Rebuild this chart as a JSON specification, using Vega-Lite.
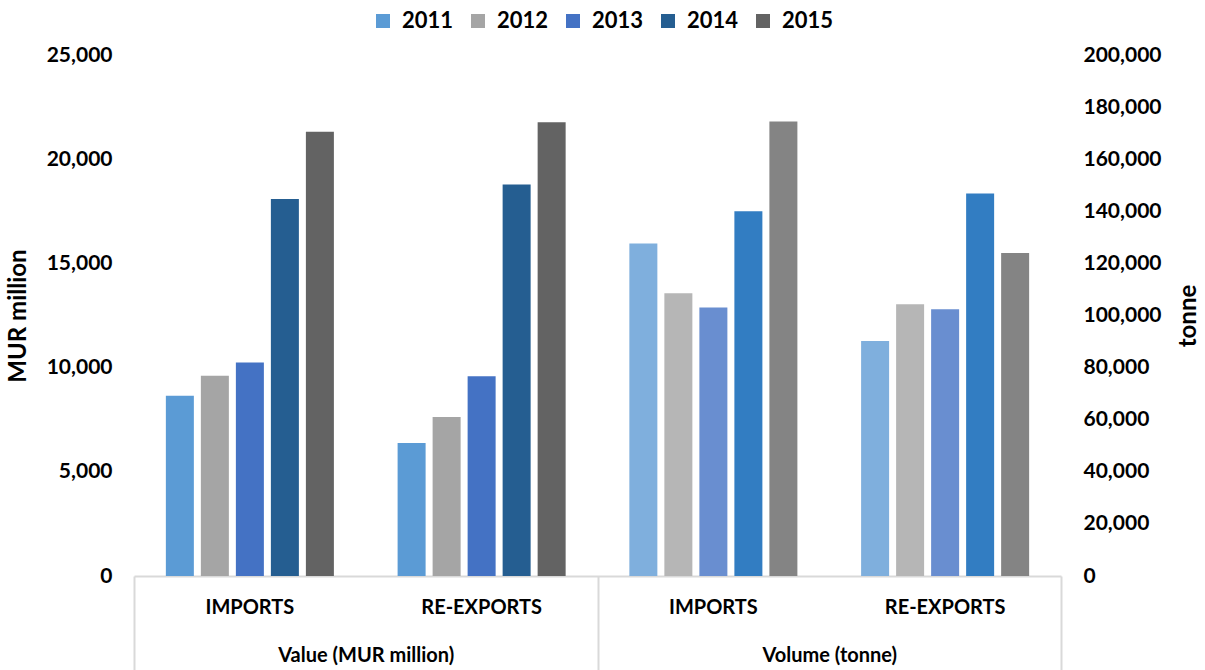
{
  "$schema": "https://vega.github.io/schema/vega-lite/v6.json",
  "autosize": {"type": "none"},
  "width": 927,
  "height": 521,
  "padding": {"left": 134, "top": 55, "right": 144, "bottom": 94},
  "config": {
    "font": "Lato",
    "view": {"stroke": null},
    "axis": {"labelFontWeight": "bold", "labelColor": "#000000", "titleColor": "#000000", "titleFontWeight": "bold", "labelFontSize": 21, "titleFontSize": 24, "grid": false}
  },
  "data": {
    "values": [
      {"group": "Value (MUR million)", "flow": "IMPORTS", "cat": "Value IMPORTS", "year": "2011", "amount": 8650},
      {"group": "Value (MUR million)", "flow": "IMPORTS", "cat": "Value IMPORTS", "year": "2012", "amount": 9610},
      {"group": "Value (MUR million)", "flow": "IMPORTS", "cat": "Value IMPORTS", "year": "2013", "amount": 10250},
      {"group": "Value (MUR million)", "flow": "IMPORTS", "cat": "Value IMPORTS", "year": "2014", "amount": 18090},
      {"group": "Value (MUR million)", "flow": "IMPORTS", "cat": "Value IMPORTS", "year": "2015", "amount": 21320},
      {"group": "Value (MUR million)", "flow": "RE-EXPORTS", "cat": "Value RE-EXPORTS", "year": "2011", "amount": 6380},
      {"group": "Value (MUR million)", "flow": "RE-EXPORTS", "cat": "Value RE-EXPORTS", "year": "2012", "amount": 7630},
      {"group": "Value (MUR million)", "flow": "RE-EXPORTS", "cat": "Value RE-EXPORTS", "year": "2013", "amount": 9580},
      {"group": "Value (MUR million)", "flow": "RE-EXPORTS", "cat": "Value RE-EXPORTS", "year": "2014", "amount": 18780},
      {"group": "Value (MUR million)", "flow": "RE-EXPORTS", "cat": "Value RE-EXPORTS", "year": "2015", "amount": 21770},
      {"group": "Volume (tonne)", "flow": "IMPORTS", "cat": "Volume IMPORTS", "year": "2011", "amount": 127600},
      {"group": "Volume (tonne)", "flow": "IMPORTS", "cat": "Volume IMPORTS", "year": "2012", "amount": 108500},
      {"group": "Volume (tonne)", "flow": "IMPORTS", "cat": "Volume IMPORTS", "year": "2013", "amount": 103100},
      {"group": "Volume (tonne)", "flow": "IMPORTS", "cat": "Volume IMPORTS", "year": "2014", "amount": 140000},
      {"group": "Volume (tonne)", "flow": "IMPORTS", "cat": "Volume IMPORTS", "year": "2015", "amount": 174500},
      {"group": "Volume (tonne)", "flow": "RE-EXPORTS", "cat": "Volume RE-EXPORTS", "year": "2011", "amount": 90200},
      {"group": "Volume (tonne)", "flow": "RE-EXPORTS", "cat": "Volume RE-EXPORTS", "year": "2012", "amount": 104300},
      {"group": "Volume (tonne)", "flow": "RE-EXPORTS", "cat": "Volume RE-EXPORTS", "year": "2013", "amount": 102400},
      {"group": "Volume (tonne)", "flow": "RE-EXPORTS", "cat": "Volume RE-EXPORTS", "year": "2014", "amount": 146800},
      {"group": "Volume (tonne)", "flow": "RE-EXPORTS", "cat": "Volume RE-EXPORTS", "year": "2015", "amount": 124000}
    ]
  },
  "layer": [
    {
      "transform": [{"filter": "datum.group === 'Value (MUR million)'"}],
      "mark": {"type": "bar"},
      "encoding": {
        "x": {
          "field": "cat", "type": "nominal",
          "scale": {"domain": ["Value IMPORTS", "Value RE-EXPORTS", "Volume IMPORTS", "Volume RE-EXPORTS"], "paddingInner": 0, "paddingOuter": 0},
          "axis": {"orient": "bottom", "title": null, "labelAngle": 0, "ticks": false, "tickSize": 0, "domain": true, "domainColor": "#D9D9D9", "domainWidth": 2, "labelPadding": 21, "labelFontSize": 20, "labelExpr": "replace(replace(datum.label, 'Value ', ''), 'Volume ', '')"}
        },
        "xOffset": {"field": "year", "type": "nominal", "scale": {"paddingInner": 0.2, "paddingOuter": 0.91}},
        "y": {
          "field": "amount", "type": "quantitative",
          "scale": {"domain": [0, 25000], "nice": false},
          "axis": {"orient": "left", "title": "MUR million", "values": [0, 5000, 10000, 15000, 20000, 25000], "format": ",.0f", "ticks": false, "domain": false, "labelPadding": 22, "titlePadding": 16}
        },
        "color": {
          "field": "year", "type": "nominal",
          "scale": {"domain": ["2011", "2012", "2013", "2014", "2015"], "range": ["#5B9BD5", "#A5A5A5", "#4472C4", "#255E91", "#636363"]},
          "legend": {"orient": "none", "legendX": 238, "legendY": -45, "direction": "horizontal", "title": null, "symbolType": "square", "symbolSize": 196, "symbolStrokeWidth": 0, "labelFontSize": 22, "labelFontWeight": "bold", "labelColor": "#000000", "columnPadding": 13, "labelOffset": 8}
        }
      }
    },
    {
      "transform": [{"filter": "datum.group === 'Volume (tonne)'"}],
      "mark": {"type": "bar"},
      "encoding": {
        "x": {
          "field": "cat", "type": "nominal",
          "scale": {"domain": ["Value IMPORTS", "Value RE-EXPORTS", "Volume IMPORTS", "Volume RE-EXPORTS"], "paddingInner": 0, "paddingOuter": 0},
          "axis": null
        },
        "xOffset": {"field": "year", "type": "nominal", "scale": {"paddingInner": 0.2, "paddingOuter": 0.91}},
        "y": {
          "field": "amount", "type": "quantitative",
          "scale": {"domain": [0, 200000], "nice": false},
          "axis": {"orient": "right", "title": "tonne", "titleAngle": 270, "values": [0, 20000, 40000, 60000, 80000, 100000, 120000, 140000, 160000, 180000, 200000], "format": ",.0f", "ticks": false, "domain": false, "labelPadding": 22, "titlePadding": 40}
        },
        "color": {
          "field": "year", "type": "nominal",
          "scale": {"domain": ["2011", "2012", "2013", "2014", "2015"], "range": ["#7FAFDD", "#B6B6B6", "#698ED0", "#327DC2", "#848484"]},
          "legend": null
        }
      }
    },
    {
      "data": {"values": [{"grp": "Value (MUR million)"}, {"grp": "Volume (tonne)"}]},
      "mark": {"type": "rule", "strokeOpacity": 0},
      "encoding": {
        "x": {
          "field": "grp", "type": "nominal",
          "scale": {"type": "band", "domain": ["Value (MUR million)", "Volume (tonne)"], "paddingInner": 0, "paddingOuter": 0},
          "axis": {"orient": "bottom", "title": null, "labelAngle": 0, "domain": false, "ticks": true, "tickBand": "extent", "tickSize": 94, "tickColor": "#D9D9D9", "tickWidth": 2, "labelPadding": -25, "labelFontSize": 20}
        }
      }
    }
  ],
  "resolve": {"scale": {"x": "independent", "xOffset": "independent", "y": "independent", "color": "independent"}}
}
